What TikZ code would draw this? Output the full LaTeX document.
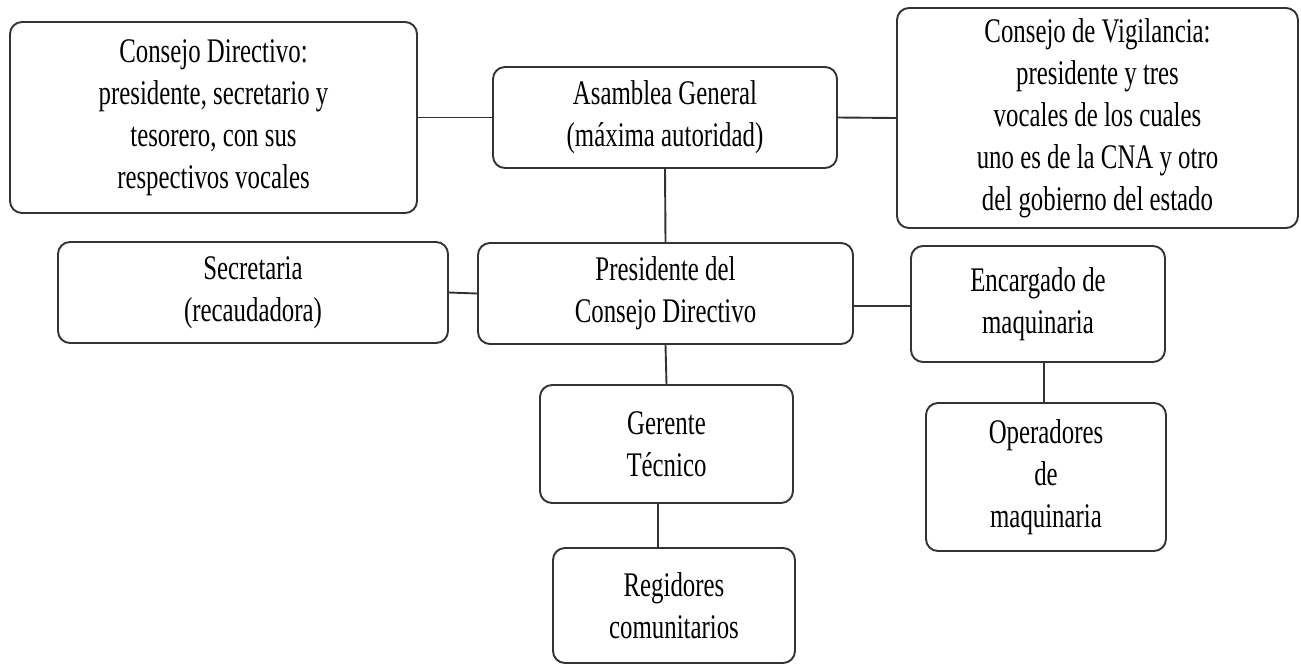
\documentclass[tikz,border=0pt]{standalone}
\usepackage{fontspec}
\setmainfont[FakeStretch=0.72]{Liberation Serif}
\tikzset{
	cargo/.style={draw=black!80, line width=1.9pt, rounded corners=12pt, align=center, inner sep=0pt, font=\fontsize{34.5}{42}\selectfont},
	enlace/.style={draw=black!80, line width=1.9pt}
}

\begin{document}
\begin{tikzpicture}[x=1pt, y=-1pt]% organigrama
	\useasboundingbox (0,0) rectangle (1301,665);
	\node[cargo, minimum width=407, minimum height=191] (cd) at (213.5,117.5){Consejo Directivo:\\presidente, secretario y\\tesorero, con sus\\respectivos vocales};
	\node[cargo, minimum width=344, minimum height=101] (ag) at (665,117.5){Asamblea General\\(máxima autoridad)};
	\node[cargo, minimum width=401, minimum height=220] (cv) at (1097.5,118){Consejo de Vigilancia:\\presidente y tres\\vocales de los cuales\\uno es de la CNA y otro\\del gobierno del estado};
	\node[cargo, minimum width=390, minimum height=101] (sec) at (253,292.5){Secretaria\\(recaudadora)};
	\node[cargo, minimum width=375, minimum height=101] (pres) at (665.5,293.5){Presidente del\\Consejo Directivo};
	\node[cargo, minimum width=254, minimum height=116] (enc) at (1038,304){Encargado de\\maquinaria};
	\node[cargo, minimum width=240, minimum height=148] (op) at (1046,477){Operadores\\de\\maquinaria};
	\node[cargo, minimum width=253, minimum height=118] (ger) at (666.5,444){Gerente\\Técnico};
	\node[cargo, minimum width=242, minimum height=115] (reg) at (674,605.5){Regidores\\comunitarios};

	% lineas de mando
	\draw[enlace] (cd.east) -- (ag.west);
	\draw[enlace] (ag.east) -- (cv.west);
	\draw[enlace] (ag.south) -- (pres.north);
	\draw[enlace] (sec.east) -- (pres.west);
	\draw[enlace] ([yshift=-2]enc.west) -- ([yshift=-2]enc.west -| pres.east);
	\draw[enlace] (pres.south) -- (ger.north);
	\draw[enlace] ([xshift=6]enc.south) -- ([xshift=6]enc.south |- op.north);
	\draw[enlace] ([xshift=-8.5]ger.south) -- ([xshift=-8.5]ger.south |- reg.north);
\end{tikzpicture}
\end{document}
